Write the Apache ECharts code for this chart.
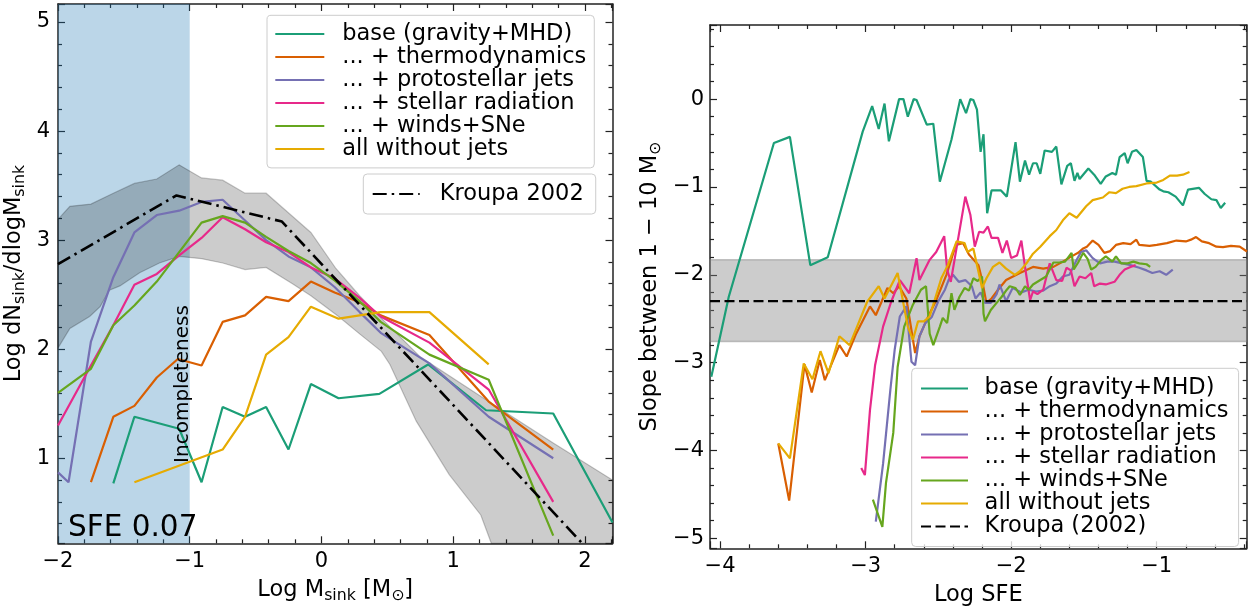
<!DOCTYPE html>
<html>
<head>
<meta charset="utf-8">
<script src="https://cdn.jsdelivr.net/npm/echarts/dist/echarts.min.js"></script>
<style>
  html, body { margin: 0; padding: 0; background: #fff; }
  #chart { width: 1254px; height: 608px; }
</style>
</head>
<body>
<div id="chart"></div>
<script>
// ---------- left panel: sink mass function at SFE 0.07 ----------
const massRange = [-2, 2.21];
const dndmRange = [0.22, 5.165];
const incompleteRange = [-2, -1];

const imfBase = [[-1.58,0.77],[-1.42,1.38],[-1.08,1.27],[-0.91,0.78],[-0.75,1.47],[-0.58,1.38],[-0.42,1.47],[-0.25,1.08],[-0.08,1.68],[0.13,1.55],[0.44,1.59],[0.81,1.86],[1.25,1.44],[1.76,1.41],[2.21,0.41]];
const imfThermo = [[-1.75,0.78],[-1.58,1.38],[-1.42,1.48],[-1.25,1.74],[-1.09,1.91],[-0.91,1.85],[-0.75,2.25],[-0.58,2.31],[-0.42,2.48],[-0.25,2.44],[-0.08,2.62],[0.10,2.52],[0.29,2.43],[0.45,2.31],[0.82,2.13],[1.27,1.52],[1.76,1.08]];
const imfJets = [[-2.0,0.87],[-1.92,0.78],[-1.75,2.07],[-1.58,2.66],[-1.42,3.07],[-1.25,3.23],[-1.08,3.27],[-0.91,3.35],[-0.75,3.37],[-0.58,3.18],[-0.42,3.0],[-0.25,2.85],[-0.08,2.75],[0.10,2.57],[0.29,2.34],[0.45,2.15],[0.82,1.87],[1.27,1.38],[1.76,1.0]];
const imfRad = [[-2.0,1.30],[-1.75,1.85],[-1.58,2.22],[-1.42,2.59],[-1.25,2.69],[-1.08,2.86],[-0.91,3.02],[-0.75,3.21],[-0.58,3.10],[-0.42,2.98],[-0.25,2.89],[-0.08,2.75],[0.10,2.65],[0.29,2.47],[0.45,2.30],[0.82,2.06],[1.27,1.63],[1.76,0.60]];
const imfWinds = [[-2.0,1.60],[-1.75,1.82],[-1.58,2.22],[-1.42,2.40],[-1.25,2.62],[-1.08,2.89],[-0.91,3.16],[-0.75,3.22],[-0.58,3.16],[-0.42,3.03],[-0.25,2.90],[-0.08,2.79],[0.10,2.63],[0.29,2.44],[0.45,2.25],[0.82,1.95],[1.27,1.72],[1.76,0.29]];
const imfNoJets = [[-1.42,0.78],[-0.75,1.08],[-0.58,1.38],[-0.42,1.95],[-0.25,2.11],[-0.08,2.39],[0.13,2.28],[0.45,2.34],[0.82,2.34],[1.27,1.86]];
const imfKroupa = [[-2.0,2.78],[-1.1,3.41],[-0.3,3.17],[1.98,0.22]];
const imfBandUpper = [[-2.0,3.19],[-1.91,3.31],[-1.75,3.33],[-1.58,3.43],[-1.42,3.52],[-1.25,3.56],[-1.08,3.69],[-0.91,3.57],[-0.75,3.55],[-0.58,3.43],[-0.42,3.43],[-0.24,3.24],[-0.08,3.07],[0.11,2.74],[0.29,2.49],[0.45,2.29],[0.75,1.93],[1.27,1.52],[1.76,1.14],[2.21,0.80],[2.21,0.22]];
const imfBandLower = [[-2.0,2.01],[-1.91,2.19],[-1.76,2.30],[-1.68,2.39],[-1.61,2.54],[-1.53,2.58],[-1.38,2.70],[-1.23,2.79],[-1.08,2.85],[-0.91,2.83],[-0.75,2.79],[-0.58,2.73],[-0.42,2.75],[-0.22,2.60],[-0.08,2.49],[0.13,2.30],[0.29,2.14],[0.455,1.98],[0.52,1.86],[0.72,1.34],[0.97,0.85],[1.21,0.48],[1.29,0.22]];

// ---------- right panel: high-mass slope vs SFE ----------
const sfeRange = [-4.069, -0.382];
const slopeRange = [-5.114, 0.844];
const kroupaSlope = -2.3;
const kroupaSlopeBand = [-2.76, -1.83];

const slopeBase = [[-4.06,-3.16],[-3.94,-2.25],[-3.63,-0.50],[-3.52,-0.43],[-3.38,-1.89],[-3.26,-1.80],[-3.02,-0.37],[-2.955,-0.08],[-2.91,-0.34],[-2.87,-0.05],[-2.84,-0.48],[-2.77,0],[-2.74,0],[-2.71,-0.20],[-2.67,0],[-2.65,-0.01],[-2.58,-0.29],[-2.535,-0.28],[-2.49,-0.94],[-2.41,-0.46],[-2.35,0],[-2.31,-0.16],[-2.28,0],[-2.26,-0.01],[-2.235,-0.12],[-2.21,-0.60],[-2.19,-0.40],[-2.165,-1.30],[-2.135,-1.04],[-2.07,-1.04],[-2.03,-1.11],[-1.97,-0.49],[-1.94,-0.94],[-1.905,-0.70],[-1.877,-0.86],[-1.85,-0.73],[-1.825,-0.73],[-1.80,-0.85],[-1.77,-0.585],[-1.72,-0.60],[-1.69,-0.54],[-1.655,-0.97],[-1.615,-0.76],[-1.59,-0.73],[-1.565,-0.93],[-1.545,-0.84],[-1.53,-0.91],[-1.47,-0.79],[-1.43,-0.86],[-1.385,-0.965],[-1.35,-0.88],[-1.305,-0.84],[-1.28,-0.86],[-1.255,-0.66],[-1.22,-0.615],[-1.20,-0.73],[-1.17,-0.60],[-1.14,-0.58],[-1.095,-0.66],[-1.07,-0.93],[-1.04,-0.94],[-0.98,-1.03],[-0.955,-1.05],[-0.92,-1.06],[-0.87,-1.11],[-0.82,-1.21],[-0.785,-1.03],[-0.71,-1.01],[-0.67,-1.08],[-0.625,-1.14],[-0.59,-1.15],[-0.56,-1.24],[-0.53,-1.18]];
const slopeThermo = [[-3.60,-3.92],[-3.525,-4.57],[-3.42,-3.02],[-3.37,-3.34],[-3.315,-2.97],[-3.28,-3.20],[-3.18,-2.80],[-3.13,-2.93],[-3.065,-2.67],[-2.97,-2.36],[-2.93,-2.46],[-2.85,-2.15],[-2.81,-2.21],[-2.77,-2.13],[-2.72,-2.27],[-2.66,-2.89],[-2.63,-2.70],[-2.58,-2.51],[-2.515,-2.29],[-2.445,-2.00],[-2.38,-1.66],[-2.33,-1.64],[-2.29,-1.77],[-2.225,-1.89],[-2.20,-2.06],[-2.17,-2.32],[-2.135,-2.27],[-2.09,-2.17],[-2.035,-2.06],[-1.94,-1.98],[-1.85,-1.91],[-1.78,-1.93],[-1.71,-1.91],[-1.645,-1.85],[-1.585,-1.79],[-1.54,-1.75],[-1.505,-1.70],[-1.48,-1.68],[-1.44,-1.61],[-1.40,-1.66],[-1.36,-1.75],[-1.32,-1.73],[-1.28,-1.66],[-1.23,-1.64],[-1.18,-1.65],[-1.14,-1.60],[-1.12,-1.66],[-1.05,-1.67],[-1.0,-1.66],[-0.93,-1.64],[-0.865,-1.61],[-0.8,-1.62],[-0.765,-1.60],[-0.73,-1.57],[-0.69,-1.62],[-0.64,-1.64],[-0.59,-1.68],[-0.545,-1.685],[-0.49,-1.67],[-0.43,-1.68],[-0.38,-1.735]];
const slopeJets = [[-2.93,-4.81],[-2.88,-4.15],[-2.83,-3.31],[-2.80,-2.85],[-2.765,-2.475],[-2.72,-2.36],[-2.685,-2.99],[-2.66,-3.03],[-2.63,-2.70],[-2.59,-2.55],[-2.545,-2.48],[-2.50,-2.30],[-2.455,-2.17],[-2.43,-2.06],[-2.40,-2.00],[-2.36,-2.08],[-2.315,-2.06],[-2.27,-2.13],[-2.245,-2.27],[-2.21,-2.20],[-2.18,-2.32],[-2.14,-2.32],[-2.10,-2.22],[-2.08,-2.11],[-2.035,-2.30],[-1.99,-2.15],[-1.93,-2.20],[-1.88,-2.17],[-1.83,-2.19],[-1.78,-2.18],[-1.735,-2.13],[-1.69,-2.10],[-1.645,-2.02],[-1.60,-2.00],[-1.55,-1.83],[-1.52,-1.74],[-1.485,-1.72],[-1.44,-1.81],[-1.39,-1.87],[-1.34,-1.85],[-1.29,-1.85],[-1.235,-1.87],[-1.18,-1.89],[-1.12,-1.92],[-1.07,-1.95],[-1.03,-1.98],[-0.98,-1.96],[-0.935,-2.0],[-0.89,-1.94]];
const slopeRad = [[-3.03,-4.20],[-3.005,-4.28],[-2.97,-3.54],[-2.935,-3.03],[-2.88,-2.59],[-2.825,-2.31],[-2.765,-2.06],[-2.70,-2.21],[-2.65,-1.81],[-2.63,-2.06],[-2.56,-1.83],[-2.515,-1.74],[-2.46,-1.56],[-2.44,-1.94],[-2.415,-2.08],[-2.315,-1.11],[-2.28,-1.32],[-2.25,-1.68],[-2.22,-1.51],[-2.19,-1.52],[-2.16,-1.45],[-2.135,-1.58],[-2.09,-1.58],[-2.06,-1.75],[-2.03,-1.61],[-2.0,-1.81],[-1.96,-1.78],[-1.93,-1.61],[-1.905,-1.91],[-1.87,-2.29],[-1.85,-2.19],[-1.82,-2.22],[-1.78,-2.17],[-1.735,-1.87],[-1.69,-2.06],[-1.65,-2.07],[-1.62,-1.92],[-1.59,-1.95],[-1.565,-2.13],[-1.53,-2.02],[-1.49,-2.04],[-1.45,-1.98],[-1.43,-2.13],[-1.39,-2.10],[-1.35,-2.11],[-1.29,-2.08],[-1.255,-2.00],[-1.22,-1.94],[-1.18,-1.91],[-1.145,-1.89]];
const slopeWinds = [[-2.95,-4.56],[-2.885,-4.87],[-2.86,-4.37],[-2.81,-3.80],[-2.78,-3.05],[-2.735,-2.59],[-2.675,-2.34],[-2.62,-2.17],[-2.585,-2.13],[-2.56,-2.67],[-2.535,-2.80],[-2.49,-2.59],[-2.47,-2.49],[-2.44,-2.55],[-2.41,-2.21],[-2.39,-2.40],[-2.355,-2.25],[-2.32,-2.15],[-2.29,-2.18],[-2.26,-2.04],[-2.23,-2.07],[-2.20,-2.02],[-2.19,-2.44],[-2.18,-2.53],[-2.14,-2.40],[-2.10,-2.32],[-2.065,-2.25],[-2.03,-2.17],[-2.01,-2.13],[-1.97,-2.15],[-1.94,-2.23],[-1.905,-2.13],[-1.88,-2.17],[-1.85,-2.11],[-1.80,-2.06],[-1.76,-2.02],[-1.71,-1.86],[-1.67,-1.86],[-1.63,-1.85],[-1.585,-1.75],[-1.57,-1.94],[-1.54,-1.86],[-1.505,-1.75],[-1.475,-1.82],[-1.45,-1.94],[-1.42,-1.91],[-1.38,-1.83],[-1.35,-1.79],[-1.305,-1.85],[-1.28,-1.79],[-1.245,-1.87],[-1.20,-1.87],[-1.16,-1.85],[-1.12,-1.87],[-1.07,-1.88],[-1.045,-1.91]];
const slopeNoJets = [[-3.60,-3.92],[-3.52,-4.09],[-3.425,-3.01],[-3.365,-3.19],[-3.31,-2.87],[-3.255,-3.12],[-3.18,-2.70],[-3.11,-2.80],[-2.99,-2.31],[-2.91,-2.13],[-2.87,-2.27],[-2.78,-1.98],[-2.71,-2.59],[-2.675,-2.74],[-2.64,-2.53],[-2.60,-2.53],[-2.56,-2.475],[-2.48,-2.04],[-2.435,-1.89],[-2.375,-1.62],[-2.32,-1.64],[-2.30,-1.74],[-2.26,-1.70],[-2.20,-2.15],[-2.17,-2.04],[-2.125,-1.91],[-2.08,-1.86],[-2.035,-1.93],[-1.975,-2.0],[-1.94,-1.96],[-1.895,-1.87],[-1.85,-1.76],[-1.80,-1.68],[-1.735,-1.56],[-1.69,-1.49],[-1.645,-1.38],[-1.60,-1.30],[-1.55,-1.35],[-1.485,-1.22],[-1.44,-1.15],[-1.37,-1.12],[-1.325,-1.06],[-1.28,-1.07],[-1.235,-1.02],[-1.19,-1.00],[-1.14,-0.99],[-1.07,-0.96],[-1.0,-0.95],[-0.955,-0.92],[-0.91,-0.87],[-0.86,-0.87],[-0.82,-0.86],[-0.775,-0.83]];

// ---------- labels ----------
const runNames = ['base (gravity+MHD)', '... + thermodynamics', '... + protostellar jets', '... + stellar radiation', '... + winds+SNe', 'all without jets'];
const runColors = ['#1b9e77', '#d95f02', '#7570b3', '#e7298a', '#66a61e', '#e6ab02'];
const imfSets = [imfBase, imfThermo, imfJets, imfRad, imfWinds, imfNoJets];
const slopeSets = [slopeBase, slopeThermo, slopeJets, slopeRad, slopeWinds, slopeNoJets];
const kroupaImfName = 'Kroupa 2002';
const kroupaSlopeName = 'Kroupa (2002)';

// ---------- styling helpers ----------
const FONT = 'DejaVu Sans';
const INK = '#222';
const tickLine = { color: INK, width: 1.2 };

function tickText(v) {
  const r = Math.round(v);
  if (Math.abs(v - r) > 1e-6) return '';
  return r < 0 ? '\u2212' + (-r) : String(r);
}

function axis(position, gridIndex, range, splitNumber, withLabels, extra) {
  return Object.assign({
    type: 'value', gridIndex, position,
    min: range[0], max: range[1],
    splitNumber, minInterval: 1, maxInterval: 1,
    axisLine: { show: true, onZero: false, lineStyle: { color: INK, width: 1.5 } },
    axisTick: { show: true, inside: true, length: 7, lineStyle: tickLine },
    minorTick: { show: true, splitNumber: 5, length: 4, lineStyle: tickLine },
    splitLine: { show: false },
    minorSplitLine: { show: false },
    axisLabel: { show: withLabels, margin: 8, color: '#000', fontFamily: FONT, fontSize: 21, formatter: tickText },
    nameMoveOverlap: false,
    silent: true
  }, extra || {});
}

const nameStyle = {
  fontFamily: FONT, fontSize: 22.5, color: '#000', lineHeight: 28,
  rich: { sub: { fontFamily: FONT, fontSize: 15.75, color: '#000', lineHeight: 16, verticalAlign: 'bottom' } }
};

function curve(name, color, data, axisIdx) {
  return {
    type: 'line', name, data, xAxisIndex: axisIdx, yAxisIndex: axisIdx,
    symbol: 'none', showSymbol: false, clip: true, silent: true, z: 3,
    lineStyle: { color, width: 2.2 }, itemStyle: { color }
  };
}

const series = [];

// shaded spread of the mass function + incompleteness zone
const bandPolygon = imfBandUpper.concat(imfBandLower.slice().reverse());
series.push({
  type: 'custom', name: 'spread', xAxisIndex: 0, yAxisIndex: 0, silent: true, z: 1,
  data: [bandPolygon[0]],
  renderItem: (params, api) => ({
    type: 'polygon',
    shape: { points: bandPolygon.map(p => api.coord(p)) },
    style: { fill: 'rgba(0,0,0,0.2)', stroke: 'rgba(0,0,0,0.22)', lineWidth: 1.2 }
  }),
  markArea: {
    silent: true,
    itemStyle: { color: 'rgba(31,119,180,0.3)' },
    data: [[{ xAxis: incompleteRange[0] }, { xAxis: incompleteRange[1] }]]
  }
});

imfSets.forEach((d, i) => series.push(curve(runNames[i], runColors[i], d, 0)));
series.push({
  type: 'line', name: kroupaImfName, data: imfKroupa, xAxisIndex: 0, yAxisIndex: 0,
  symbol: 'none', clip: true, silent: true, z: 4,
  lineStyle: { color: '#000', width: 2.6, type: [14, 5, 2.5, 5] }, itemStyle: { color: '#000' }
});

slopeSets.forEach((d, i) => series.push(curve(runNames[i], runColors[i], d, 2)));
series.push({
  type: 'line', name: kroupaSlopeName, xAxisIndex: 2, yAxisIndex: 2,
  data: [[sfeRange[0], kroupaSlope], [sfeRange[1], kroupaSlope]],
  symbol: 'none', clip: true, silent: true, z: 4,
  lineStyle: { color: '#000', width: 2.2, type: [10, 4.5] }, itemStyle: { color: '#000' },
  markArea: {
    silent: true,
    itemStyle: { color: 'rgba(128,128,128,0.4)', borderColor: 'rgba(128,128,128,0.45)', borderWidth: 1.5 },
    data: [[{ yAxis: kroupaSlopeBand[0] }, { yAxis: kroupaSlopeBand[1] }]]
  }
});

// legend boxes show plain line handles (no marker)
const legendBox = {
  orient: 'vertical', selectedMode: false, itemGap: 0, itemHeight: 14,
  itemStyle: { opacity: 0, borderWidth: 0 },
  backgroundColor: 'rgba(255,255,255,0.8)', borderColor: '#cccccc', borderWidth: 1, borderRadius: 4
};

const option = {
  animation: false,
  backgroundColor: '#fff',
  grid: [
    { left: 58, top: 4, width: 554.5, height: 539.3, containLabel: false, outerBoundsMode: 'none' },
    { left: 710, top: 25, width: 536.7, height: 523.3, containLabel: false, outerBoundsMode: 'none' }
  ],
  xAxis: [
    axis('bottom', 0, massRange, 4, true, {
      name: 'Log M{sub|sink} [M{sub|\u2299}]', nameLocation: 'middle', nameGap: 33, nameTextStyle: nameStyle
    }),
    axis('top', 0, massRange, 4, false),
    axis('bottom', 1, sfeRange, 4, true, {
      name: 'Log SFE', nameLocation: 'middle', nameGap: 33, nameTextStyle: nameStyle
    }),
    axis('top', 1, sfeRange, 4, false)
  ],
  yAxis: [
    axis('left', 0, dndmRange, 5, true, {
      name: 'Log dN{sub|sink}/dlogM{sub|sink}', nameLocation: 'middle', nameRotate: 90, nameGap: 30, nameTextStyle: nameStyle
    }),
    axis('right', 0, dndmRange, 5, false),
    axis('left', 1, slopeRange, 6, true, {
      name: 'Slope between 1 \u2212 10 M{sub|\u2299}', nameLocation: 'middle', nameRotate: 90, nameGap: 46, nameTextStyle: nameStyle,
      axisLabel: { show: true, margin: 6, color: '#000', fontFamily: FONT, fontSize: 21, formatter: tickText }
    }),
    axis('right', 1, slopeRange, 6, false)
  ],
  legend: [
    Object.assign({}, legendBox, {
      left: 267, top: 15.3, padding: [7.3, 8, 7.3, 7.3], itemWidth: 49,
      data: runNames,
      textStyle: { fontFamily: FONT, fontSize: 22.5, color: '#000', lineHeight: 22.3, padding: [0, 0, 0, 13] }
    }),
    Object.assign({}, legendBox, {
      left: 363.3, top: 174, padding: [8.5, 12, 8.5, 8.4], itemWidth: 47,
      data: [kroupaImfName],
      textStyle: { fontFamily: FONT, fontSize: 22.5, color: '#000', lineHeight: 22.3, padding: [0, 0, 0, 15] }
    }),
    Object.assign({}, legendBox, {
      left: 911.7, top: 368.3, padding: [8.6, 10, 8.6, 8.3], itemWidth: 47,
      data: runNames.concat([kroupaSlopeName]),
      textStyle: { fontFamily: FONT, fontSize: 22.5, color: '#000', lineHeight: 21.5, padding: [0, 0, 0, 11.6] }
    })
  ],
  graphic: [
    {
      type: 'text', x: 183, y: 384, rotation: Math.PI / 2, z: 10, silent: true,
      style: { text: 'Incompleteness', fontFamily: FONT, fontSize: 20, fill: '#000', align: 'center', verticalAlign: 'middle' }
    },
    {
      type: 'text', x: 68, y: 543, z: 10, silent: true,
      style: { text: 'SFE 0.07', fontFamily: FONT, fontSize: 29.5, fill: '#000', align: 'left', verticalAlign: 'bottom' }
    }
  ],
  series
};

const chart = echarts.init(document.getElementById('chart'), null, { renderer: 'canvas', width: 1254, height: 608 });
chart.setOption(option);
</script>
</body>
</html>
